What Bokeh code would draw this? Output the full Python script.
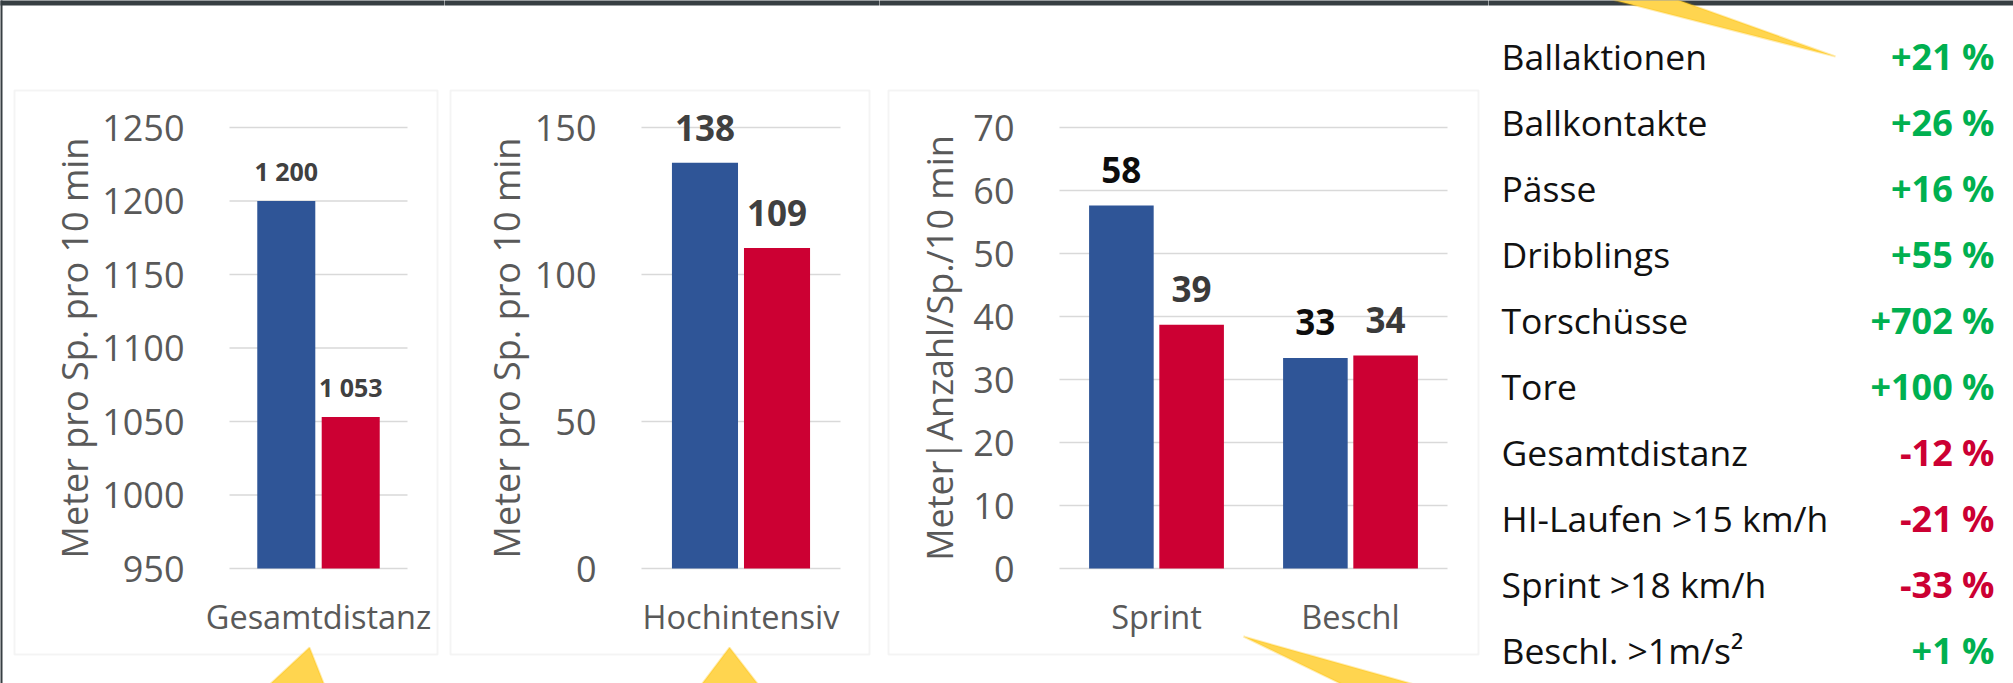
from bokeh.plotting import figure
from bokeh.models import (ColumnDataSource, Range1d, FixedTicker, LabelSet,
                          BoxAnnotation, PolyAnnotation)
from bokeh.layouts import row
from bokeh.transform import dodge
from bokeh.embed import file_html
from bokeh.resources import INLINE
from bokeh.core.properties import value

# ---------------- data ----------------
dist_categories = ["Gesamtdistanz"]
dist_blue = [1200]
dist_red = [1053]
dist_ticks = [950, 1000, 1050, 1100, 1150, 1200, 1250]

hi_categories = ["Hochintensiv"]
hi_blue = [138]
hi_red = [109]
hi_ticks = [0, 50, 100, 150]

sb_categories = ["Sprint", "Beschl"]
sb_blue = [57.6, 33.4]
sb_red = [38.7, 33.8]
sb_ticks = [0, 10, 20, 30, 40, 50, 60, 70]

axis_titles = ["Meter pro Sp. pro 10 min", "Meter pro Sp. pro 10 min",
               "Meter|Anzahl/Sp./10 min"]

stat_names = ["Ballaktionen", "Ballkontakte", "Pässe", "Dribblings", "Torschüsse",
              "Tore", "Gesamtdistanz", "HI-Laufen >15 km/h", "Sprint >18 km/h",
              "Beschl. >1m/s²"]
stat_changes = [21, 26, 16, 55, 702, 100, -12, -21, -33, 1]

# ---------------- style / layout ----------------
BLUE = "#2F5597"
RED = "#CC0033"
GREEN = "#00B050"
GRID = "#D9D9D9"
AXIS_TXT = "#595959"
DARK = "#373F43"
FONT = "Open Sans"
H = 683
PLOT_T = 127   # canvas y of the top tick
PLOT_B = 568   # canvas y of the bottom tick
ARROW_FILL = "#FFD54F"
ARROW_LINE = "#FFC000"


def fmt_num(v):
    return f"{round(v):,}".replace(",", " ")


def canvas_box(p, l, r, t, b, **kw):
    p.add_layout(BoxAnnotation(left=l, right=r, top=t, bottom=b,
                               left_units="canvas", right_units="canvas",
                               top_units="canvas", bottom_units="canvas", **kw))


def add_arrow(p, xs, ys):
    p.add_layout(PolyAnnotation(xs=xs, ys=ys, xs_units="canvas", ys_units="canvas",
                                fill_color=ARROW_FILL, fill_alpha=1,
                                line_color=ARROW_LINE, line_width=2, level="overlay"))


def band(p, W, left_strip=False):
    canvas_box(p, -5, W + 5, -5, 5, fill_color=DARK, fill_alpha=1, line_color=None,
               level="underlay")
    if left_strip:
        canvas_box(p, -5, 2, -5, H + 5, fill_color=DARK, fill_alpha=1,
                   line_color=None, level="underlay")


def make_panel(cats, blue, red, ticks, title, W, L, R, box, arrow, lbl_size,
               lbl_offset, bcol, rcol, bar_w, off, title_standoff, left_strip=False):
    n = len(cats)
    cat_x = [i + 0.5 for i in range(n)]
    s = (R - L) / n
    pu = (PLOT_B - PLOT_T) / (ticks[-1] - ticks[0])
    p = figure(width=W, height=H,
               x_range=Range1d(-L / s, (W - L) / s),
               y_range=Range1d(ticks[0] - (H - PLOT_B) / pu, ticks[-1] + PLOT_T / pu),
               min_border=0, output_backend="svg", toolbar_location=None)
    p.outline_line_color = None
    p.background_fill_color = "white"
    p.border_fill_color = "white"
    p.grid.visible = False

    band(p, W, left_strip)
    canvas_box(p, box[0], box[1], box[2], box[3], fill_color=None, fill_alpha=0,
               line_color=GRID, line_width=2, level="underlay")

    # gridlines limited to the plot area, one per tick value
    gsrc = ColumnDataSource(dict(y=ticks))
    p.segment(x0=0, x1=n, y0="y", y1="y", source=gsrc, line_color=GRID,
              line_width=1.5)

    # y axis
    p.yaxis.fixed_location = 0
    p.yaxis.bounds = (ticks[0], ticks[-1])
    p.yaxis.ticker = FixedTicker(ticks=ticks)
    p.yaxis.axis_line_color = None
    p.yaxis.major_tick_line_color = None
    p.yaxis.minor_tick_line_color = None
    p.yaxis.major_label_standoff = 39
    p.yaxis.major_label_text_font = FONT
    p.yaxis.major_label_text_font_size = "36px"
    p.yaxis.major_label_text_color = AXIS_TXT
    p.yaxis.axis_label = title
    p.yaxis.axis_label_text_font = FONT
    p.yaxis.axis_label_text_font_size = "36px"
    p.yaxis.axis_label_text_font_style = "normal"
    p.yaxis.axis_label_text_color = AXIS_TXT
    p.yaxis.axis_label_standoff = title_standoff

    # x axis (categories)
    p.xaxis.fixed_location = ticks[0]
    p.xaxis.bounds = (0, n)
    p.xaxis.ticker = FixedTicker(ticks=cat_x)
    p.xaxis.major_label_overrides = {x: c for x, c in zip(cat_x, cats)}
    p.xaxis.axis_line_color = None
    p.xaxis.major_tick_line_color = None
    p.xaxis.minor_tick_line_color = None
    p.xaxis.major_label_standoff = 19
    p.xaxis.major_label_text_font = FONT
    p.xaxis.major_label_text_font_size = "32.5px"
    p.xaxis.major_label_text_color = AXIS_TXT

    src = ColumnDataSource(dict(x=cat_x, blue=blue, red=red,
                                blue_lbl=[fmt_num(v) for v in blue],
                                red_lbl=[fmt_num(v) for v in red]))
    p.vbar(x=dodge("x", -off), top="blue", bottom=ticks[0], width=bar_w,
           source=src, fill_color=BLUE, line_color=None)
    p.vbar(x=dodge("x", off), top="red", bottom=ticks[0], width=bar_w,
           source=src, fill_color=RED, line_color=None)

    for col, lbl, color, o in (("blue", "blue_lbl", bcol, -off),
                               ("red", "red_lbl", rcol, off)):
        p.add_layout(LabelSet(x=dodge("x", o), y=col, text=lbl, source=src,
                              y_offset=lbl_offset, text_align="center",
                              text_baseline="middle", text_font=value(FONT),
                              text_font_size=f"{lbl_size}px", text_font_style="bold",
                              text_color=color))

    add_arrow(p, arrow[0], arrow[1])
    return p


p1 = make_panel(dist_categories, dist_blue, dist_red, dist_ticks, axis_titles[0],
                W=444, L=229, R=407, box=(14, 437, 90, 654),
                arrow=([309, 252, 330], [647, 700, 700]),
                lbl_size=25, lbl_offset=30, bcol="#404040", rcol="#404040",
                bar_w=0.326, off=0.181, title_standoff=0, left_strip=True)

p2 = make_panel(hi_categories, hi_blue, hi_red, hi_ticks, axis_titles[1],
                W=435, L=197, R=396, box=(6, 425, 90, 654),
                arrow=([285, 245, 326], [647, 700, 700]),
                lbl_size=35, lbl_offset=35, bcol="#404040", rcol="#404040",
                bar_w=0.332, off=0.181, title_standoff=1)

p3 = make_panel(sb_categories, sb_blue, sb_red, sb_ticks, axis_titles[2],
                W=609, L=180, R=568, box=(9, 599, 90, 654),
                arrow=([364, 496, 592], [636, 700, 700]),
                lbl_size=35, lbl_offset=36, bcol="#0D0D0D", rcol="#3A3A3A",
                bar_w=0.333, off=0.181, title_standoff=6)

# ---------------- right-hand list ----------------
W4 = 525
ROW0 = 55.5    # canvas y of first row centre
ROW_STEP = 66  # px between rows
src4 = ColumnDataSource(dict(
    row=list(range(len(stat_names))),
    name=stat_names,
    pct=[f"{v:+d} %" for v in stat_changes],
    color=[GREEN if v >= 0 else RED for v in stat_changes]))

p4 = figure(width=W4, height=H, x_range=Range1d(0, W4),
            y_range=Range1d((H - ROW0) / ROW_STEP, -ROW0 / ROW_STEP),
            x_axis_location=None, y_axis_location=None, min_border=0,
            output_backend="svg", toolbar_location=None)
p4.outline_line_color = None
p4.grid.visible = False
p4.background_fill_color = "white"
p4.border_fill_color = "white"
band(p4, W4)

p4.text(x=13, y="row", text="name", source=src4, text_font=value(FONT),
        text_font_size="35.5px", text_color="#111111", text_baseline="middle",
        text_align="left")
p4.text(x=506, y="row", text="pct", source=src4, text_font=value(FONT),
        text_font_size="36px", text_font_style="bold", text_color="color",
        text_baseline="middle", text_align="right")

add_arrow(p4, [347, 88, 163], [56, -10, -10])

layout = row(p1, p2, p3, p4, spacing=0)

open("out.html", "w").write(file_html(layout, INLINE))
